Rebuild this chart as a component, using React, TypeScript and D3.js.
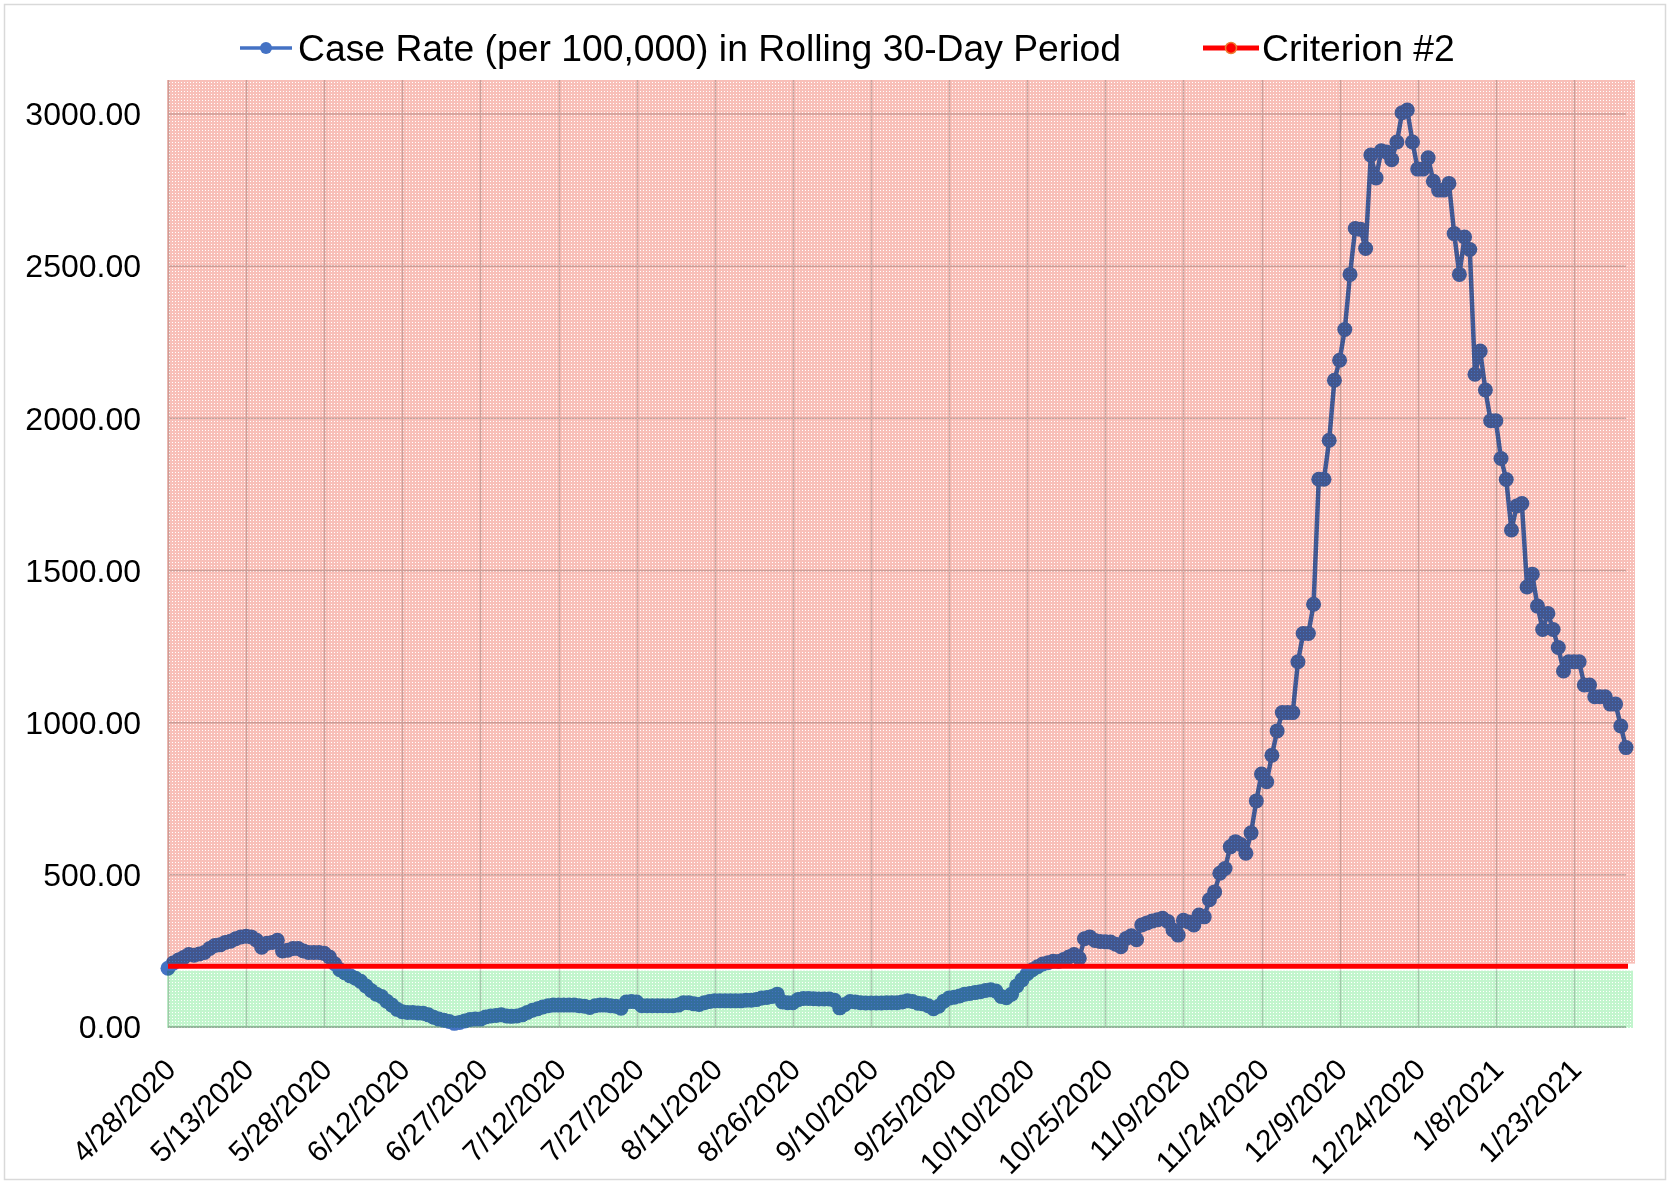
import * as d3 from 'd3';

// daily case rate, 4/28/2020 .. 2/2/2021
const caseRate = [
  193, 210, 220, 228, 238, 236, 240, 245, 258, 268,
  270, 278, 282, 290, 296, 298, 296, 285, 262, 275,
  278, 285, 250, 252, 258, 258, 250, 245, 245, 245,
  242, 230, 208, 188, 178, 168, 160, 150, 135, 120,
  108, 100, 85, 72, 58, 50, 48, 48, 46, 45,
  40, 32, 26, 22, 18, 12, 15, 20, 25, 26,
  26, 33, 36, 38, 40, 36, 35, 36, 40, 48,
  55, 60, 66, 70, 72, 72, 72, 72, 72, 70,
  68, 64, 70, 72, 72, 70, 68, 62, 82, 84,
  82, 70, 70, 70, 70, 70, 70, 70, 72, 80,
  80, 76, 74, 80, 84, 86, 86, 86, 86, 86,
  86, 88, 88, 90, 95, 97, 100, 108, 82, 80,
  80, 90, 94, 94, 93, 92, 92, 92, 88, 63,
  74, 84, 82, 80, 79, 79, 79, 79, 80, 80,
  80, 82, 86, 84, 78, 76, 70, 60, 68, 85,
  95, 98, 102, 108, 110, 113, 116, 120, 122, 118,
  100, 96, 108, 135, 155, 175, 188, 198, 207, 211,
  216, 215, 222, 230, 238, 226, 290, 296, 284, 281,
  280, 279, 272, 264, 291, 300, 287, 335, 342, 348,
  352, 357, 347, 319, 302, 351, 345, 335, 368, 362,
  418, 444, 505, 521, 592, 609, 600, 571, 638, 743,
  831, 806, 893, 973, 1033, 1033, 1033, 1200, 1293, 1293,
  1389, 1800, 1800, 1928, 2125, 2191, 2292, 2473, 2624, 2621,
  2558, 2865, 2790, 2879, 2875, 2850, 2908, 3004, 3013, 2908,
  2819, 2819, 2856, 2779, 2750, 2750, 2772, 2607, 2473, 2596,
  2555, 2145, 2221, 2093, 1992, 1992, 1868, 1799, 1633, 1712,
  1720, 1446, 1488, 1383, 1306, 1359, 1306, 1247, 1170, 1200,
  1200, 1200, 1124, 1124, 1085, 1085, 1085, 1061, 1061, 989,
  918
];
const criterion = 200;
const startDate = '4/28/2020';
const xTickLabels = [
  '4/28/2020', '5/13/2020', '5/28/2020', '6/12/2020', '6/27/2020', '7/12/2020', '7/27/2020',
  '8/11/2020', '8/26/2020', '9/10/2020', '9/25/2020', '10/10/2020', '10/25/2020', '11/9/2020',
  '11/24/2020', '12/9/2020', '12/24/2020', '1/8/2021', '1/23/2021'
];
const yTicks = [0, 500, 1000, 1500, 2000, 2500, 3000];
const seriesNames = ['Case Rate (per 100,000) in Rolling 30-Day Period', 'Criterion #2'];

const W = 1670;
const H = 1184;
const FONT = '"Liberation Sans", Arial, sans-serif';

const parse = d3.timeParse('%m/%d/%Y');

export default function App() {
  const start = parse(startDate)!;
  const dates = caseRate.map((_, i) => d3.timeDay.offset(start, i));
  const data = dates.map((d, i) => ({ date: d, value: caseRate[i] }));

  const x = d3.scaleTime().domain([dates[0], dates[dates.length - 1]]).range([168, 1626]);
  const y = d3.scaleLinear().domain([0, 3000]).range([1027, 114]);

  const plotTop = 80;
  const line = d3
    .line<{ date: Date; value: number }>()
    .x((d) => x(d.date))
    .y((d) => y(d.value));

  const critY = y(criterion);
  const fmt = d3.format('.2f');

  return (
    <svg
      width={W}
      height={H}
      style={{ position: 'absolute', left: 0, top: 0, background: '#fff' }}
      fontFamily={FONT}
    >
      <defs>
        <pattern id="redDots" width={3} height={3} patternUnits="userSpaceOnUse">
          <rect width={3} height={3} fill="#f8bfb8" />
          <rect x={1} y={1} width={1} height={1} fill="#ffffff" />
        </pattern>
        <pattern id="greenDots" width={3} height={3} patternUnits="userSpaceOnUse">
          <rect width={3} height={3} fill="#c2f5cd" />
          <rect x={1} y={1} width={1} height={1} fill="#ffffff" />
        </pattern>
      </defs>

      <rect x={4.5} y={4.5} width={W - 9} height={H - 9} fill="#fff" stroke="#d9d9d9" strokeWidth={1.5} />

      {/* grid */}
      <g stroke="#d2d2d2" strokeWidth={1.5}>
        {xTickLabels.map((t) => {
          const xx = Math.round(x(parse(t)!)) + 0.5;
          return <line key={t} x1={xx} x2={xx} y1={plotTop} y2={y(0)} />;
        })}
        {yTicks.slice(1).map((v) => (
          <line key={v} x1={168} x2={1626} y1={y(v)} y2={y(v)} />
        ))}
      </g>
      <line x1={168} x2={1626} y1={y(0)} y2={y(0)} stroke="#bfbfbf" strokeWidth={2} />

      {/* series */}
      <g>
        <path d={line(data)!} fill="none" stroke="#4472C4" strokeWidth={4.5} strokeLinejoin="round" />
        {data.map((d, i) => (
          <circle key={i} cx={x(d.date)} cy={y(d.value)} r={7.5} fill="#4472C4" />
        ))}
      </g>

      {/* zone fills laid over the plot */}
      <g style={{ mixBlendMode: 'multiply' }}>
        <rect x={167} y={plotTop} width={1468} height={critY - 2.5 - plotTop} fill="url(#redDots)" />
        <rect x={167} y={critY + 4.5} width={1466} height={y(0) + 1 - (critY + 4.5)} fill="url(#greenDots)" />
      </g>

      <line x1={168} x2={1628} y1={critY} y2={critY} stroke="#ff0000" strokeWidth={5} />

      {/* y axis labels */}
      <g fontSize={32} textAnchor="end" fill="#000">
        {yTicks.map((v) => (
          <text key={v} x={141} y={y(v)} dy="0.35em">
            {fmt(v)}
          </text>
        ))}
      </g>

      {/* x axis labels */}
      <g fontSize={29.5} textAnchor="end" fill="#000">
        {xTickLabels.map((t) => {
          const xx = x(parse(t)!);
          return (
            <text key={t} transform={`translate(${xx + 2},${y(0) + 37}) rotate(-45)`} dy="0.35em">
              {t}
            </text>
          );
        })}
      </g>

      {/* legend */}
      <g fontSize={37.3} fill="#000">
        <line x1={240} x2={292} y1={48} y2={48} stroke="#4472C4" strokeWidth={3.5} />
        <circle cx={266} cy={48} r={6} fill="#4472C4" />
        <text x={298} y={61}>{seriesNames[0]}</text>
        <line x1={1203} x2={1259} y1={48} y2={48} stroke="#ff0000" strokeWidth={5} />
        <circle cx={1231} cy={48} r={5.5} fill="#ff0000" stroke="#ed7d31" strokeWidth={1.5} />
        <text x={1262} y={61}>{seriesNames[1]}</text>
      </g>
    </svg>
  );
}
